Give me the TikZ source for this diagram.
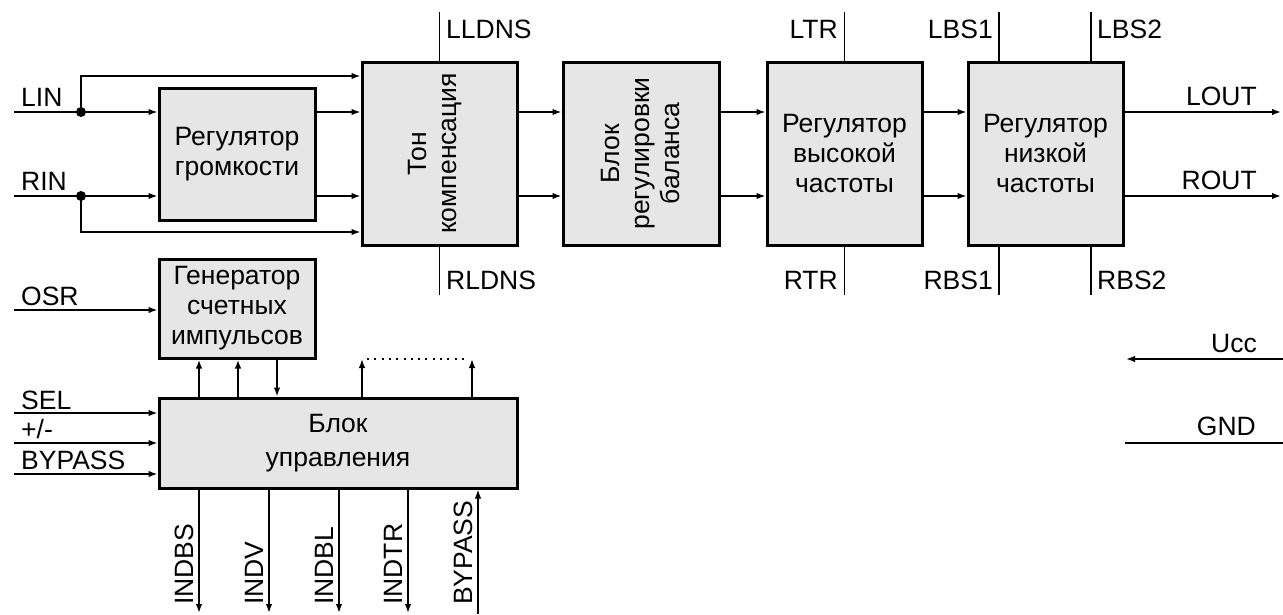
\documentclass[tikz,border=0pt]{standalone}
\usepackage{fontspec}
\setmainfont{Liberation Sans}
\usetikzlibrary{arrows.meta,calc}
\definecolor{blkfill}{RGB}{230,230,230}
\begin{document}
\begin{tikzpicture}[x=1pt,y=-1pt,
  blk/.style={draw, line width=3pt, fill=blkfill, inner sep=0pt},
  sig/.style={line width=1.5pt, -{Latex[length=9pt,width=6.5pt]}},
  wire/.style={line width=1.5pt},
  txt/.style={font=\fontsize{26.5}{30}\selectfont, inner sep=0pt},
  btxt/.style={txt, align=center},
  ]
\useasboundingbox (0,0) rectangle (1283,614);

% blocks
\node[blk, minimum width=156pt, minimum height=132pt] (vol) at (237,154) {};
\node[blk, minimum width=155pt, minimum height=183pt] (ton) at (439.5,153.5) {};
\node[blk, minimum width=156pt, minimum height=183pt] (bal) at (641,153.5) {};
\node[blk, minimum width=155pt, minimum height=183pt] (hf) at (844.5,153.5) {};
\node[blk, minimum width=155pt, minimum height=183pt] (lf) at (1045.5,153.5) {};
\node[blk, minimum width=156pt, minimum height=99pt] (gen) at (237,308.5) {};
\node[blk, minimum width=358pt, minimum height=90pt] (ctl) at (338,443) {};

\node[btxt] (volT) at (vol.center) {Регулятор\\громкости};
\node[btxt, rotate=90] (tonT) at ([xshift=-4pt]ton.center) {Тон\\компенсация};
\node[btxt, rotate=90] (balT) at (bal.center) {Блок\\регулировки\\баланса};
\node[btxt] (hfT) at (hf.center) {Регулятор\\высокой\\частоты};
\node[btxt] (lfT) at (lf.center) {Регулятор\\низкой\\частоты};
\node[btxt] (genT) at (gen.center) {Генератор\\счетных\\импульсов};
\node[btxt] (ctlT) at (ctl.center) {Блок\\[4pt]управления};

% input coordinates
\coordinate (linS) at (14,112);
\coordinate (rinS) at (14,196);
\coordinate (jL) at (81,112);
\coordinate (jR) at (81,196);
\coordinate (busT) at (81,76);
\coordinate (busB) at (81,232);

\draw[sig] (linS) -- (vol.west |- linS);
\draw[sig] (rinS) -- (vol.west |- rinS);
\draw[sig] (jL) -- (busT) -- (ton.west |- busT);
\draw[sig] (jR) -- (busB) -- (ton.west |- busB);
\fill (jL) circle (5pt);
\fill (jR) circle (5pt);
\draw[sig] (vol.east |- linS) -- (ton.west |- linS);
\draw[sig] (vol.east |- rinS) -- (ton.west |- rinS);
\draw[sig] (ton.east |- linS) -- (bal.west |- linS);
\draw[sig] (ton.east |- rinS) -- (bal.west |- rinS);
\draw[sig] (bal.east |- linS) -- (hf.west |- linS);
\draw[sig] (bal.east |- rinS) -- (hf.west |- rinS);
\draw[sig] (hf.east |- linS) -- (lf.west |- linS);
\draw[sig] (hf.east |- rinS) -- (lf.west |- rinS);
\coordinate (loutE) at (1281,112);
\coordinate (routE) at (1281,196);
\draw[sig] (lf.east |- loutE) -- (loutE);
\draw[sig] (lf.east |- routE) -- (routE);

% stubs
\coordinate (lldnsE) at (439.5,12);
\coordinate (rldnsE) at (439.5,295);
\coordinate (ltrE) at (844.5,12);
\coordinate (rtrE) at (844.5,295);
\coordinate (lbs1E) at (999,12);
\coordinate (rbs1E) at (999,295);
\coordinate (lbs2E) at (1091,12);
\coordinate (rbs2E) at (1091,295);
\draw[wire] (ton.north) -- (lldnsE);
\draw[wire] (ton.south) -- (rldnsE);
\draw[wire] (hf.north) -- (ltrE);
\draw[wire] (hf.south) -- (rtrE);
\draw[wire] (lf.north -| lbs1E) -- (lbs1E);
\draw[wire] (lf.south -| rbs1E) -- (rbs1E);
\draw[wire] (lf.north -| lbs2E) -- (lbs2E);
\draw[wire] (lf.south -| rbs2E) -- (rbs2E);

% labels
\node[txt, anchor=base west] (lldnsL) at (446,38) {LLDNS};
\node[txt, anchor=base west] (rldnsL) at (446,289) {RLDNS};
\node[txt, anchor=base east] (ltrL) at (838,38) {LTR};
\node[txt, anchor=base east] (rtrL) at (838,289) {RTR};
\node[txt, anchor=base east] (lbs1L) at (993,38) {LBS1};
\node[txt, anchor=base east] (rbs1L) at (993,289) {RBS1};
\node[txt, anchor=base west] (lbs2L) at (1097,38) {LBS2};
\node[txt, anchor=base west] (rbs2L) at (1097,289) {RBS2};
\node[txt, anchor=base west] (linL) at (21,106) {LIN};
\node[txt, anchor=base west] (rinL) at (21,190) {RIN};
\node[txt, anchor=base east] (loutL) at (1257,105) {LOUT};
\node[txt, anchor=base east] (routL) at (1257,189) {ROUT};

% generator / control inputs
\coordinate (osrS) at (14,310);
\coordinate (selS) at (14,413);
\coordinate (pmS) at (14,443);
\coordinate (bypS) at (14,474);
\draw[sig] (osrS) -- (gen.west |- osrS);
\draw[sig] (selS) -- (ctl.west |- selS);
\draw[sig] (pmS) -- (ctl.west |- pmS);
\draw[sig] (bypS) -- (ctl.west |- bypS);
\node[txt, anchor=base west] (osrL) at (21,305) {OSR};
\node[txt, anchor=base west] (selL) at (21,409) {SEL};
\node[txt, anchor=base west] (pmL) at (21,438) {+/-};
\node[txt, anchor=base west] (bypL) at (21,469) {BYPASS};

% generator <-> control
\coordinate (c1) at (199,0);
\coordinate (c2) at (238,0);
\coordinate (c3) at (277,0);
\draw[sig, line width=2pt] (ctl.north -| c1) -- (gen.south -| c1);
\draw[sig, line width=2pt] (ctl.north -| c2) -- (gen.south -| c2);
\draw[sig] (gen.south -| c3) -- (ctl.north -| c3);

% dotted
\coordinate (dt1) at (362,359);
\coordinate (dt2) at (472,359);
\draw[sig] (ctl.north -| dt1) -- (dt1);
\draw[sig] (ctl.north -| dt2) -- (dt2);
\draw[line width=2pt, dash pattern=on 2pt off 5.3pt] (dt1) ++(5,0) -- ($(dt2)+(-4,0)$);

% bottom outputs
\coordinate (o1) at (199,613);
\coordinate (o2) at (269,613);
\coordinate (o3) at (339,613);
\coordinate (o4) at (408,613);
\coordinate (o5) at (478,614);
\draw[sig] (ctl.south -| o1) -- (o1);
\draw[sig] (ctl.south -| o2) -- (o2);
\draw[sig] (ctl.south -| o3) -- (o3);
\draw[sig] (ctl.south -| o4) -- (o4);
\draw[sig] (o5) -- (ctl.south -| o5);
\node[txt, rotate=90, anchor=base west] (indbsL) at (193,605) {INDBS};
\node[txt, rotate=90, anchor=base west] (indvL) at (263,605) {INDV};
\node[txt, rotate=90, anchor=base west] (indblL) at (333,605) {INDBL};
\node[txt, rotate=90, anchor=base west] (indtrL) at (402,605) {INDTR};
\node[txt, rotate=90, anchor=base west] (bypOL) at (472,605) {BYPASS};

% power
\coordinate (uccS) at (1283,359);
\coordinate (uccE) at (1126,359);
\coordinate (gndS) at (1125,443);
\coordinate (gndE) at (1283,443);
\draw[sig] (uccS) -- (uccE);
\draw[wire] (gndS) -- (gndE);
\node[txt, anchor=base east] (uccL) at (1257,352) {Ucc};
\node[txt, anchor=base east] (gndL) at (1256,435) {GND};
\end{tikzpicture}
\end{document}
